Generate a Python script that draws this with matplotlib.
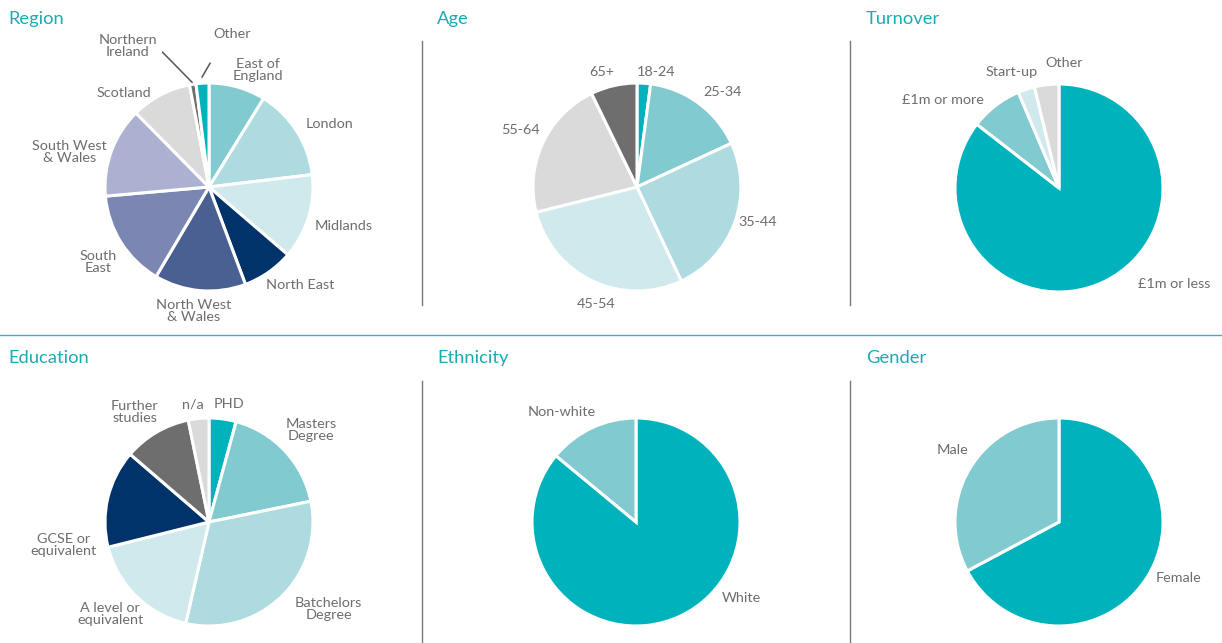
import numpy as np
import matplotlib
matplotlib.use("Agg")
import matplotlib.pyplot as plt

plt.rcParams["font.family"] = ["Lato", "DejaVu Sans"]

TEAL = "#00B2BB"
TEAL2 = "#80CAD0"
TEAL3 = "#ADDBDF"
TEAL4 = "#D0E9EC"
NAVY = "#003369"
BLUE2 = "#4A6093"
BLUE3 = "#7B86B3"
BLUE4 = "#ACB1D1"
GREY_L = "#DADADA"
GREY_D = "#6E6E6E"
TXT = "#6D6D6D"
TITLE = "#1AABB3"

# datos (porcentajes aprox.)
region_labels = ["East of\nEngland", "London", "Midlands", "North East", "North West\n& Wales",
                 "South\nEast", "South West\n& Wales", "Scotland", "Northern\nIreland", "Other"]
region_values = [8.8, 14.3, 13.2, 8.0, 14.2, 15.1, 14.0, 9.4, 1.0, 2.0]
region_colors = [TEAL2, TEAL3, TEAL4, NAVY, BLUE2, BLUE3, BLUE4, GREY_L, GREY_D, TEAL]

age_labels = ["18-24", "25-34", "35-44", "45-54", "55-64", "65+"]
age_values = [2.1, 16.0, 24.9, 28.1, 21.7, 7.2]
age_colors = [TEAL, TEAL2, TEAL3, TEAL4, GREY_L, GREY_D]

turnover_labels = ["£1m or less", "£1m or more", "Start-up", "Other"]
turnover_values = [85.5, 8.1, 2.6, 3.8]
turnover_colors = [TEAL, TEAL2, TEAL4, GREY_L]

education_labels = ["PHD", "Masters\nDegree", "Batchelors\nDegree", "A level or\nequivalent",
                    "GCSE or\nequivalent", "Further\nstudies", "n/a"]
education_values = [4.2, 17.6, 31.8, 17.5, 15.2, 10.5, 3.2]
education_colors = [TEAL, TEAL2, TEAL3, TEAL4, NAVY, GREY_D, GREY_L]

ethnicity_labels = ["White", "Non-white"]
ethnicity_values = [86.0, 14.0]
ethnicity_colors = [TEAL, TEAL2]

gender_labels = ["Female", "Male"]
gender_values = [67.2, 32.8]
gender_colors = [TEAL, TEAL2]

W, H = 1222, 643
R = 104

fig = plt.figure(figsize=(W / 100, H / 100), dpi=100)


def draw_pie(cx, cy, title, tx, ty, values, labels, colors, label_r=1.27, overrides=None, leaders=None):
    overrides = overrides or {}
    leaders = leaders or {}
    ax = fig.add_axes([(cx - R) / W, (H - cy - R) / H, 2 * R / W, 2 * R / H])
    ax.pie(values, colors=colors, startangle=90, counterclock=False, radius=1,
           wedgeprops=dict(edgecolor="white", linewidth=2.2))
    ax.set_xlim(-1, 1)
    ax.set_ylim(-1, 1)
    ax.set_aspect("equal")
    ax.axis("off")
    vals = np.array(values, dtype=float)
    ends = np.cumsum(vals) / vals.sum() * 360
    mids = ends - vals / vals.sum() * 180
    for lab, mid in zip(labels, mids):
        ang, r = overrides.get(lab, (mid, label_r))
        a = np.radians(ang)
        ax.text(r * np.sin(a), r * np.cos(a), lab, ha="center", va="center",
                fontsize=10.4, color=TXT, linespacing=1.0)
        if lab in leaders:
            (a1, r1), (a2, r2) = leaders[lab]
            ax.plot([r1 * np.sin(np.radians(a1)), r2 * np.sin(np.radians(a2))],
                    [r1 * np.cos(np.radians(a1)), r2 * np.cos(np.radians(a2))],
                    color="#555555", lw=1.1, clip_on=False)
    fig.text(tx / W, 1 - ty / H, title, ha="left", va="center", fontsize=13.2, color=TITLE)


draw_pie(209, 187, "Region", 8, 19, region_values, region_labels, region_colors,
         overrides={"East of\nEngland": (22.7, 1.22), "London": (62.5, 1.31),
                    "Midlands": (106, 1.35), "North East": (137, 1.29),
                    "North West\n& Wales": (187, 1.2), "South\nEast": (236, 1.29),
                    "South West\n& Wales": (284, 1.38), "Scotland": (318, 1.22),
                    "Northern\nIreland": (330, 1.56), "Other": (8.5, 1.49)},
         leaders={"Northern\nIreland": ((350.8, 1.02), (341, 1.37)),
                  "Other": ((356.4, 1.06), (0.5, 1.19))})

draw_pie(637, 187, "Age", 437, 19, age_values, age_labels, age_colors,
         overrides={"18-24": (9.4, 1.12), "25-34": (42, 1.23), "35-44": (106, 1.21),
                    "45-54": (199, 1.19), "55-64": (296, 1.25), "65+": (343, 1.16)})

draw_pie(1059, 188, "Turnover", 866, 19, turnover_values, turnover_labels, turnover_colors,
         overrides={"£1m or less": (130, 1.44), "£1m or more": (307, 1.4),
                    "Start-up": (337.7, 1.21), "Other": (2.3, 1.2)})

draw_pie(209, 522, "Education", 8, 358, education_values, education_labels, education_colors,
         overrides={"PHD": (9.6, 1.15), "Masters\nDegree": (48, 1.32),
                    "Batchelors\nDegree": (126, 1.42), "A level or\nequivalent": (227, 1.3),
                    "GCSE or\nequivalent": (261, 1.42), "Further\nstudies": (326, 1.28),
                    "n/a": (352, 1.14)})

draw_pie(636, 522, "Ethnicity", 437, 358, ethnicity_values, ethnicity_labels, ethnicity_colors,
         overrides={"White": (126, 1.25), "Non-white": (326, 1.28)})

draw_pie(1059, 522, "Gender", 866, 358, gender_values, gender_labels, gender_colors,
         overrides={"Female": (115, 1.27), "Male": (304, 1.24)})

# lineas separadoras
fig.add_artist(plt.Line2D([0, 1], [1 - 335 / H, 1 - 335 / H], color="#3AB4BA", lw=1.0))
for x in [422, 850]:
    fig.add_artist(plt.Line2D([x / W, x / W], [1 - 41 / H, 1 - 305 / H], color="#777777", lw=1.0))
    fig.add_artist(plt.Line2D([x / W, x / W], [1 - 381 / H, 0], color="#777777", lw=1.0))

plt.savefig("out.png", dpi=100)
